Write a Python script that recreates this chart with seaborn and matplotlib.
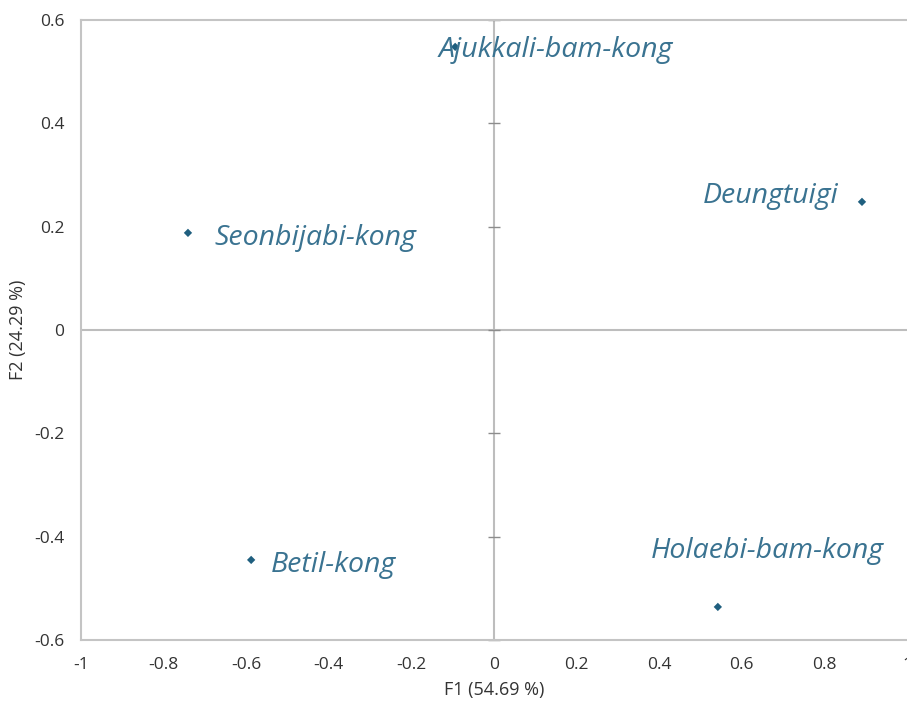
import numpy as np
import pandas as pd
import matplotlib
matplotlib.use("Agg")
import matplotlib.pyplot as plt
import seaborn as sns

# data
names = ['Ajukkali-bam-kong', 'Deungtuigi', 'Seonbijabi-kong', 'Betil-kong', 'Holaebi-bam-kong']
f1 = [-0.094, 0.891, -0.741, -0.588, 0.542]
f2 = [0.548, 0.248, 0.188, -0.445, -0.536]
x_ticks = [-1, -0.8, -0.6, -0.4, -0.2, 0, 0.2, 0.4, 0.6, 0.8, 1]
y_ticks = [-0.6, -0.4, -0.2, 0, 0.2, 0.4, 0.6]
x_title = 'F1 (54.69 %)'
y_title = 'F2 (24.29 %)'

df = pd.DataFrame({'name': names, 'F1': f1, 'F2': f2})

sns.set_style("white")
plt.rcParams['font.family'] = ['Open Sans', 'DejaVu Sans']

fig = plt.figure(figsize=(9.07, 7.01), dpi=100)
ax = fig.add_axes([81 / 907, 61 / 701, 826 / 907, 620 / 701])

grey = '#bdbdbd'
ax.axhline(0, color=grey, lw=1.5, zorder=1)
ax.axvline(0, color=grey, lw=1.5, zorder=1)
# small tick marks along the vertical zero line
ax.plot(np.zeros(len(y_ticks)), y_ticks, ls='none', marker='_', ms=9, mew=1, color='#8c8c8c', zorder=1, clip_on=False)

sns.scatterplot(data=df, x='F1', y='F2', marker='D', s=18, color='#1f5f7f',
                edgecolor='none', ax=ax, zorder=3)

txt_col = '#3a7391'
# label offsets in points (dx, dy), alignment
offsets = {
    'Ajukkali-bam-kong': (-12, -2, 'left'),
    'Deungtuigi': (-17, 4, 'right'),
    'Seonbijabi-kong': (19, -4, 'left'),
    'Betil-kong': (14, -4, 'left'),
    'Holaebi-bam-kong': (-48, 40, 'left'),
}
for _, r in df.iterrows():
    dx, dy, ha = offsets[r['name']]
    ax.annotate(r['name'], (r['F1'], r['F2']), xytext=(dx, dy), textcoords='offset points',
                ha=ha, va='center', fontsize=20.5, style='italic', color=txt_col, zorder=4)

ax.set_xlim(-1, 1)
ax.set_ylim(-0.6, 0.6)
ax.set_xticks(x_ticks)
ax.set_xticklabels([f'{t:g}' for t in x_ticks])
ax.set_yticks(y_ticks)
ax.set_yticklabels([f'{t:g}' for t in y_ticks])
ax.tick_params(length=0, labelsize=12.5, colors='#333333', pad=12)
ax.set_xlabel(x_title, fontsize=13, color='#333333', labelpad=6)
ax.set_ylabel(y_title, fontsize=13, color='#333333', labelpad=5)
for side in ['left', 'bottom', 'top']:
    ax.spines[side].set_color('#c4c4c4')
    ax.spines[side].set_linewidth(1.5)
ax.spines['right'].set_visible(False)

fig.savefig('out.png', dpi=100)
